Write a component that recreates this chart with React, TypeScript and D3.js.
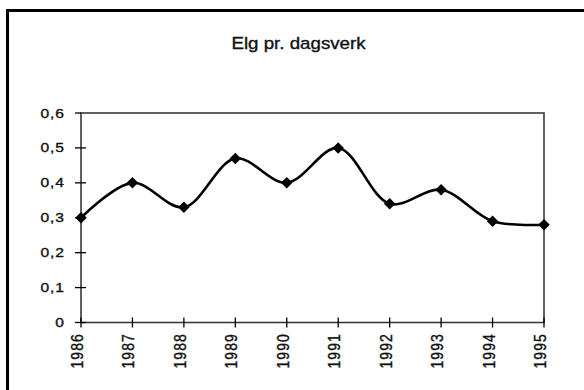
import React from "react";
import * as d3 from "d3";

// Elg pr. dagsverk, 1986–1995
const years = [1986, 1987, 1988, 1989, 1990, 1991, 1992, 1993, 1994, 1995];
const values = [0.3, 0.4, 0.33, 0.47, 0.4, 0.5, 0.34, 0.38, 0.29, 0.28];
const yTicks = [0, 0.1, 0.2, 0.3, 0.4, 0.5, 0.6];
const title = "Elg pr. dagsverk";

const W = 584;
const H = 390;
const FONT = "'Liberation Sans', Arial, Helvetica, sans-serif";

const nb = d3.formatLocale({
  decimal: ",",
  thousands: ".",
  grouping: [3],
  currency: ["", " kr"],
});
const fmt = nb.format(".1~f");

const textStyle = {
  fontFamily: FONT,
  fill: "#111",
  stroke: "#111",
  strokeWidth: 0.35,
};

export default function App() {
  const x = d3.scaleLinear().domain([1986, 1995]).range([81, 544]);
  const y = d3.scaleLinear().domain([0, 0.6]).range([322.5, 113]);

  const line = d3
    .line<number>()
    .x((_, i) => x(years[i]))
    .y((d) => y(d))
    .curve(d3.curveCatmullRom.alpha(0.5));

  const marker = d3.symbol(d3.symbolSquare, 66)();

  const axisColor = "#3a3a3a";

  return (
    <svg
      width={W}
      height={H}
      style={{ position: "absolute", left: 0, top: 0, background: "#fff" }}
    >
      {/* outer frame */}
      <rect
        x={7.5}
        y={10.5}
        width={W + 20}
        height={H + 20}
        fill="none"
        stroke="#000"
        strokeWidth={3}
      />

      {/* title */}
      <text
        transform={`translate(298.5, 49) scale(1.17, 1)`}
        textAnchor="middle"
        fontSize={16}
        style={textStyle}
      >
        {title}
      </text>

      {/* plot area border */}
      <rect
        x={x(1986)}
        y={y(0.6)}
        width={x(1995) - x(1986)}
        height={y(0) - y(0.6)}
        fill="none"
        stroke={axisColor}
        strokeWidth={1.6}
      />

      {/* y axis ticks and labels */}
      {yTicks.map((t) => (
        <g key={t}>
          <line
            x1={x(1986) - 6}
            x2={t === 0.6 ? x(1986) : x(1986) + 5}
            y1={y(t)}
            y2={y(t)}
            stroke="#000"
            strokeWidth={1.3}
          />
          <text
            transform={`translate(65, ${y(t) + 4.5}) scale(1.2, 1)`}
            textAnchor="end"
            fontSize={13}
            letterSpacing={0.8}
            style={textStyle}
          >
            {fmt(t)}
          </text>
        </g>
      ))}

      {/* x axis ticks and labels */}
      {years.map((yr) => (
        <g key={yr}>
          <line
            x1={x(yr)}
            x2={x(yr)}
            y1={y(0) - 5}
            y2={y(0) + 5}
            stroke="#000"
            strokeWidth={1.3}
          />
          <text
            transform={`translate(${x(yr) + 2}, 333) scale(1.2, 1) rotate(-90)`}
            textAnchor="end"
            fontSize={14}
            letterSpacing={1.1}
            style={textStyle}
          >
            {yr}
          </text>
        </g>
      ))}

      {/* series line */}
      <path
        d={line(values) || ""}
        fill="none"
        stroke="#000"
        strokeWidth={2.6}
        strokeLinejoin="round"
      />

      {/* diamond markers */}
      {values.map((v, i) => (
        <path
          key={years[i]}
          d={marker || ""}
          transform={`translate(${x(years[i])}, ${y(v)}) rotate(45)`}
          fill="#000"
        />
      ))}
    </svg>
  );
}
